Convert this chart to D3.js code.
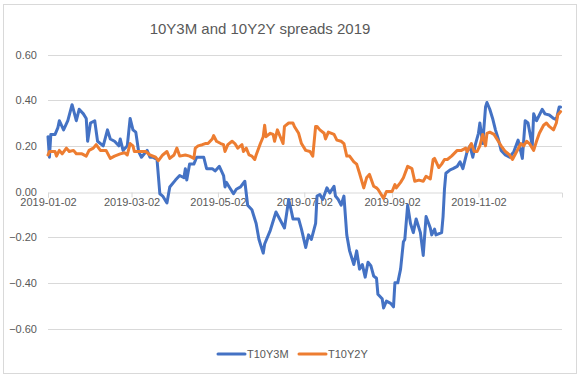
<!DOCTYPE html>
<html><head><meta charset="utf-8">
<script src="https://cdn.jsdelivr.net/npm/d3@7"></script>
<style>
html,body{margin:0;padding:0;background:#fff;}
svg{display:block;font-family:"Liberation Sans",Arial,sans-serif;}
</style></head>
<body><svg id="chart" width="583" height="378"></svg>
<script>
const title = "10Y3M and 10Y2Y spreads 2019";
const seriesNames = ["T10Y3M", "T10Y2Y"];
const seriesColors = ["#4472C4", "#ED7D31"];
const yTicks = [-0.6, -0.4, -0.2, 0, 0.2, 0.4, 0.6];
const xTickLabels = ["2019-01-02","2019-03-02","2019-05-02","2019-07-02","2019-09-02","2019-11-02"];
const xDomain = ["2019-01-02","2019-12-31"];

const t10y3mDates = ["01-02","01-03","01-04","01-07","01-09","01-10","01-13","01-16","01-19","01-22","01-24","01-27","01-29","01-30","02-01","02-04","02-06","02-10","02-13","02-15","02-18","02-21","02-22","02-24","02-27","03-01","03-03","03-05","03-07","03-09","03-13","03-15","03-17","03-20","03-22","03-24","03-27","03-29","04-02","04-05","04-08","04-09","04-10","04-12","04-15","04-17","04-22","04-24","04-28","04-30","05-03","05-06","05-07","05-08","05-10","05-13","05-15","05-18","05-21","05-23","05-26","05-29","05-31","06-03","06-04","06-08","06-12","06-18","06-21","06-23","06-24","06-28","06-30","07-03","07-05","07-07","07-10","07-11","07-13","07-15","07-18","07-20","07-23","07-24","07-26","07-28","07-30","08-01","08-03","08-06","08-08","08-10","08-12","08-14","08-16","08-18","08-20","08-22","08-23","08-26","08-27","08-29","09-01","09-03","09-04","09-06","09-08","09-10","09-11","09-13","09-15","09-17","09-19","09-22","09-24","09-26","09-29","09-30","10-02","10-03","10-07","10-08","10-09","10-10","10-13","10-15","10-18","10-20","10-22","10-25","10-27","10-29","10-31","11-02","11-03","11-05","11-07","11-08","11-10","11-12","11-14","11-16","11-18","11-21","11-24","11-27","11-30","12-03","12-05","12-07","12-10","12-11","12-13","12-17","12-19","12-22","12-25","12-27","12-29","12-30"];
const t10y3mValues = [0.24,0.15,0.25,0.25,0.28,0.31,0.27,0.31,0.38,0.31,0.36,0.34,0.32,0.22,0.30,0.31,0.22,0.20,0.27,0.23,0.22,0.20,0.23,0.18,0.20,0.32,0.27,0.26,0.175,0.15,0.18,0.15,0.15,0.14,-0.01,-0.02,-0.05,0.02,0.05,0.07,0.06,0.10,0.05,0.12,0.12,0.15,0.15,0.10,0.10,0.09,0.11,0.07,0.02,0.04,0.02,-0.01,0.01,0.02,0.045,-0.06,-0.08,-0.14,-0.21,-0.27,-0.23,-0.17,-0.09,-0.16,-0.035,-0.09,-0.12,-0.12,-0.165,-0.245,-0.19,-0.21,-0.14,-0.02,-0.013,-0.035,0.016,-0.006,0.023,-0.02,-0.035,-0.06,-0.02,-0.19,-0.26,-0.32,-0.26,-0.34,-0.32,-0.375,-0.31,-0.325,-0.37,-0.38,-0.45,-0.47,-0.51,-0.48,-0.49,-0.505,-0.40,-0.40,-0.34,-0.22,-0.21,-0.06,-0.14,-0.18,-0.12,-0.18,-0.28,-0.11,-0.16,-0.19,-0.165,-0.19,-0.18,-0.11,0.01,0.08,0.095,0.10,0.11,0.13,0.10,0.175,0.20,0.15,0.21,0.255,0.30,0.21,0.37,0.39,0.36,0.32,0.27,0.23,0.18,0.16,0.15,0.175,0.225,0.145,0.31,0.30,0.20,0.34,0.31,0.36,0.34,0.335,0.32,0.315,0.37,0.37];

const t10y2yDates = ["01-02","01-03","01-07","01-08","01-10","01-12","01-15","01-17","01-20","01-22","01-26","01-29","01-31","02-03","02-05","02-08","02-12","02-15","02-18","02-22","02-25","02-27","03-01","03-03","03-04","03-08","03-12","03-15","03-19","03-21","03-24","03-27","03-29","04-01","04-03","04-05","04-09","04-12","04-15","04-16","04-18","04-21","04-23","04-25","04-28","04-29","05-01","05-04","05-06","05-07","05-09","05-12","05-14","05-16","05-19","05-20","05-22","05-24","05-26","05-28","05-29","06-01","06-03","06-04","06-05","06-08","06-10","06-11","06-13","06-15","06-17","06-18","06-21","06-24","06-25","06-28","06-30","07-03","07-06","07-08","07-10","07-11","07-13","07-16","07-17","07-19","07-23","07-25","07-28","07-30","08-01","08-03","08-06","08-08","08-10","08-13","08-15","08-17","08-20","08-22","08-23","08-24","08-27","08-29","09-02","09-04","09-05","09-08","09-10","09-13","09-16","09-18","09-21","09-24","09-26","09-29","10-01","10-02","10-05","10-07","10-09","10-11","10-14","10-18","10-21","10-24","10-25","10-28","10-30","11-01","11-03","11-05","11-07","11-08","11-10","11-13","11-16","11-18","11-21","11-24","11-26","11-29","12-02","12-04","12-06","12-08","12-11","12-13","12-15","12-18","12-20","12-22","12-25","12-27","12-28","12-30"];
const t10y2yValues = [0.16,0.175,0.175,0.155,0.18,0.165,0.19,0.175,0.18,0.165,0.165,0.155,0.18,0.19,0.205,0.18,0.18,0.145,0.155,0.165,0.17,0.16,0.21,0.20,0.175,0.175,0.175,0.16,0.15,0.135,0.16,0.175,0.145,0.16,0.19,0.155,0.16,0.155,0.145,0.19,0.20,0.205,0.21,0.21,0.23,0.245,0.22,0.21,0.205,0.175,0.205,0.22,0.21,0.19,0.205,0.175,0.19,0.16,0.155,0.14,0.16,0.21,0.24,0.29,0.24,0.255,0.25,0.22,0.27,0.24,0.21,0.285,0.30,0.30,0.285,0.255,0.21,0.18,0.175,0.155,0.285,0.285,0.27,0.255,0.23,0.26,0.25,0.225,0.22,0.21,0.155,0.155,0.13,0.12,0.08,0.016,0.06,0.075,0.023,0.016,0.01,0.0,-0.03,0.0,0.0,0.03,0.016,0.04,0.06,0.11,0.10,0.045,0.05,0.045,0.067,0.055,0.14,0.145,0.105,0.12,0.14,0.14,0.155,0.18,0.18,0.19,0.175,0.21,0.175,0.175,0.20,0.25,0.20,0.255,0.26,0.25,0.22,0.20,0.175,0.16,0.14,0.175,0.21,0.20,0.22,0.21,0.18,0.22,0.255,0.29,0.30,0.285,0.27,0.30,0.335,0.35];

const parse = d3.timeParse("%Y-%m-%d");
const series = [
  {name: seriesNames[0], color: seriesColors[0], pts: t10y3mDates.map((d,i)=>({date: parse("2019-"+d), v: t10y3mValues[i]}))},
  {name: seriesNames[1], color: seriesColors[1], pts: t10y2yDates.map((d,i)=>({date: parse("2019-"+d), v: t10y2yValues[i]}))}
];

const svg = d3.select("#chart");
const textColor = "#595959", gridColor = "#d9d9d9";

svg.append("rect").attr("x",3.5).attr("y",4.5).attr("width",573).attr("height",369)
  .attr("fill","#fff").attr("stroke",gridColor).attr("stroke-width",1);

svg.append("text").attr("x",260).attr("y",34).attr("text-anchor","middle")
  .attr("fill",textColor).attr("font-size","15px").text(title);

const x = d3.scaleTime().domain(xDomain.map(parse)).range([48, 562]);
const y = d3.scaleLinear().domain([-0.6, 0.6]).range([328.5, 54.5]);

svg.append("g").selectAll("line").data(yTicks.filter(t=>t!==0)).join("line")
  .attr("x1",48).attr("x2",562).attr("y1",d=>Math.round(y(d))+0.5).attr("y2",d=>Math.round(y(d))+0.5)
  .attr("stroke",gridColor).attr("stroke-width",1);

svg.append("g").selectAll("text").data(yTicks).join("text")
  .attr("x",37).attr("y",d=>y(d)+4).attr("text-anchor","end")
  .attr("fill",textColor).attr("font-size","11px").text(d=>d3.format(".2f")(d));

const xAxis = d3.axisBottom(x).tickValues(xTickLabels.map(parse)).tickFormat(d3.timeFormat("%Y-%m-%d")).tickSizeOuter(0).tickSize(5);
const gx = svg.append("g").attr("transform",`translate(0,${Math.round(y(0))+0.5})`).call(xAxis);
gx.select(".domain").attr("stroke",gridColor);
gx.selectAll(".tick line").attr("stroke",gridColor);
gx.selectAll(".tick text").attr("fill",textColor).attr("font-size","11px").attr("font-family","Liberation Sans, Arial, sans-serif").attr("dy","0.9em").attr("y",4);

const line = d3.line().x(d=>x(d.date)).y(d=>y(d.v)).curve(d3.curveLinear);
svg.append("g").selectAll("path").data(series).join("path")
  .attr("d",d=>line(d.pts)).attr("fill","none").attr("stroke",d=>d.color)
  .attr("stroke-width",3).attr("stroke-linejoin","round").attr("stroke-linecap","round");

const legendX = [218, 299];
const lg = svg.append("g").selectAll("g").data(series).join("g")
  .attr("transform",(d,i)=>`translate(${legendX[i]},354)`);
lg.append("line").attr("x1",0).attr("x2",27).attr("y1",0).attr("y2",0)
  .attr("stroke",d=>d.color).attr("stroke-width",3).attr("stroke-linecap","round");
lg.append("text").attr("x",29).attr("y",4).attr("fill",textColor).attr("font-size","11px").text(d=>d.name);
</script></body></html>
